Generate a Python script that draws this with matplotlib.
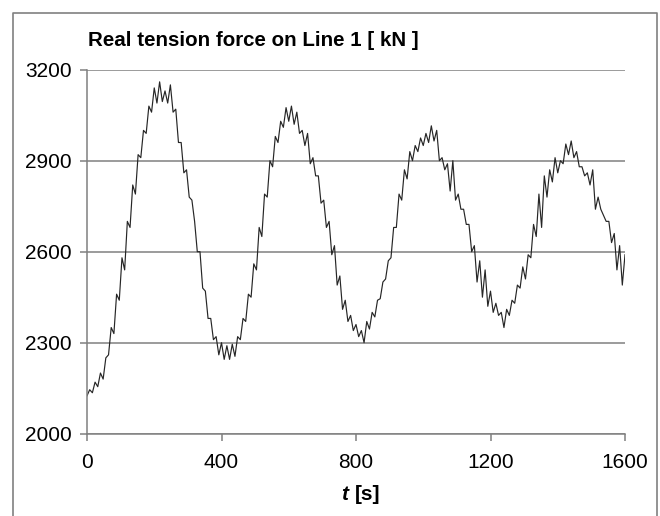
import numpy as np
import matplotlib.pyplot as plt
from matplotlib.lines import Line2D

plt.rcParams['font.family'] = ['Liberation Sans', 'DejaVu Sans']

# tension, one value every 8 s from t = 0 to 1600
tension = [
    2125, 2145, 2135, 2170, 2155, 2200, 2180, 2250, 2260, 2350,
    2330, 2460, 2440, 2580, 2540, 2700, 2680, 2820, 2790, 2920,
    2910, 3000, 2990, 3080, 3060, 3140, 3090, 3160, 3095, 3130,
    3090, 3150, 3060, 3070, 2960, 2960, 2860, 2870, 2780, 2770,
    2700, 2600, 2600, 2480, 2470, 2380, 2380, 2310, 2320, 2260,
    2300, 2245, 2290, 2245, 2295, 2255, 2320, 2310, 2380, 2370,
    2460, 2450, 2560, 2540, 2680, 2650, 2790, 2780, 2900, 2880,
    2980, 2960, 3030, 3010, 3075, 3030, 3080, 3020, 3060, 2990,
    3000, 2950, 2990, 2890, 2910, 2850, 2850, 2760, 2770, 2680,
    2700, 2590, 2620, 2490, 2520, 2410, 2440, 2370, 2390, 2340,
    2360, 2320, 2340, 2300, 2370, 2345, 2400, 2385, 2440, 2445,
    2500, 2510, 2570, 2580, 2680, 2680, 2790, 2770, 2870, 2840,
    2930, 2900, 2950, 2930, 2975, 2950, 2990, 2960, 3015, 2965,
    3000, 2900, 2910, 2870, 2890, 2800, 2900, 2770, 2790, 2740,
    2740, 2690, 2690, 2600, 2620, 2500, 2570, 2450, 2540, 2420,
    2470, 2400, 2430, 2390, 2400, 2350, 2410, 2390, 2440, 2430,
    2490, 2480, 2550, 2510, 2590, 2580, 2690, 2650, 2790, 2680,
    2850, 2780, 2870, 2830, 2910, 2860, 2900, 2890, 2955, 2920,
    2965, 2910, 2930, 2880, 2880, 2850, 2860, 2820, 2870, 2740,
    2780, 2740, 2720, 2700, 2700, 2630, 2660, 2540, 2620, 2490,
    2590,
]
t = 8 * np.arange(len(tension))

yticks = [2000, 2300, 2600, 2900, 3200]
xticks = [0, 400, 800, 1200, 1600]
title = 'Real tension force on Line 1 [ kN ]'

grey = '#808080'

fig = plt.figure(figsize=(6.6, 5.16), dpi=100)
ax = fig.add_axes([87 / 660, 1 - 433.7 / 516, 538 / 660, 364 / 516])

ax.plot(t, tension, color='#262626', lw=0.85)

ax.set_xlim(0, 1600)
ax.set_ylim(2000, 3200)
ax.set_xticks(xticks)
ax.set_yticks(yticks)
ax.yaxis.grid(True, color=grey, lw=1.1)
ax.set_axisbelow(True)

for s in ['top', 'right']:
    ax.spines[s].set_visible(False)
for s in ['left', 'bottom']:
    ax.spines[s].set_color(grey)
    ax.spines[s].set_linewidth(1.1)
ax.tick_params(direction='out', length=5, width=1.1, color=grey,
               labelsize=15, pad=6)
ax.tick_params(axis='x', pad=9)

fig.text(88 / 660, 1 - 40 / 516, title, fontsize=14.8, fontweight='bold',
         va='center', ha='left')
fig.text(348 / 660, 1 - 495 / 516, 't', fontsize=15, fontweight='bold',
         fontstyle='italic', va='center', ha='right')
fig.text(355 / 660, 1 - 495 / 516, '[s]', fontsize=15, fontweight='bold',
         va='center', ha='left')

# chart area frame (bottom edge falls outside the picture)
x0, x1 = 12.5 / 660, 656.5 / 660
y0, y1 = -0.01, 1 - 12.5 / 516
fig.add_artist(Line2D([x0, x0, x1, x1], [y0, y1, y1, y0],
                      transform=fig.transFigure, color=grey, lw=1.2))

fig.savefig('out.png', dpi=100)
